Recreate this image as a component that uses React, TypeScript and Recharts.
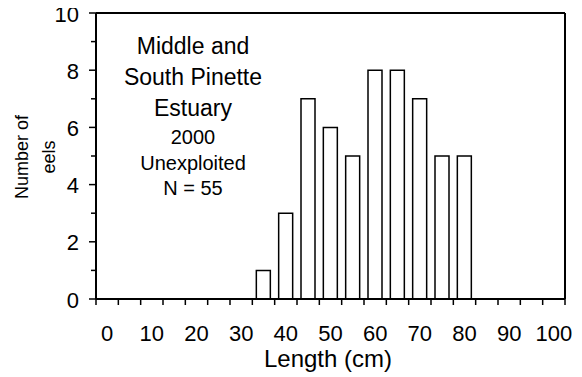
import React from "react";
import {
  BarChart,
  Bar,
  XAxis,
  YAxis,
  ReferenceLine,
} from "recharts";

// length class (cm) and eel counts
const lengthBins = [35, 40, 45, 50, 55, 60, 65, 70, 75, 80];
const eelCounts = [1, 3, 7, 6, 5, 8, 8, 7, 5, 5];

// labelled lengths, plus the class edges where the tick marks sit
const lengthLabels = [0, 10, 20, 30, 40, 50, 60, 70, 80, 90, 100];
const lengthEdges = [
  -2.5, 2.5, 7.5, 12.5, 17.5, 22.5, 27.5, 32.5, 37.5, 42.5, 47.5, 52.5,
  57.5, 62.5, 67.5, 72.5, 77.5, 82.5, 87.5, 92.5, 97.5, 102.5,
];
const countTicks = [0, 1, 2, 3, 4, 5, 6, 7, 8, 9, 10];

const titleLines = ["Middle and", "South Pinette", "Estuary"];
const infoLines = ["2000", "Unexploited", "N = 55"];

const FONT = "'Liberation Sans', Arial, sans-serif";

const W = 574;
const H = 369;

// bottom ticks: short marks at class edges, numbers at class centres
function LengthTick({ x, y, payload }: any) {
  const v = payload.value;
  if (lengthEdges.includes(v)) {
    return <line x1={x} x2={x} y1={y} y2={y + 6} stroke="#000" strokeWidth={1.5} />;
  }
  return (
    <text x={x} y={y + 42} textAnchor="middle" fontSize={22} fontFamily={FONT} fill="#000">
      {v}
    </text>
  );
}

// left ticks: labelled even counts, shorter marks on the odd ones
function CountTick({ x, y, payload }: any) {
  const v = payload.value;
  const major = v % 2 === 0;
  return (
    <g>
      <line x1={x - (major ? 7 : 5)} x2={x} y1={y} y2={y} stroke="#000" strokeWidth={1.5} />
      {major && (
        <text x={x - 17} y={y + 8.5} textAnchor="end" fontSize={22} fontFamily={FONT} fill="#000">
          {v}
        </text>
      )}
    </g>
  );
}

export default function App() {
  const data = lengthBins.map((len, i) => ({ length: len, count: eelCounts[i] }));

  return (
    <div style={{ position: "relative", width: W, height: H, background: "#fff" }}>
      {/* the top "10" sits a pixel above the svg box */}
      <style>{`.recharts-surface { overflow: visible; }`}</style>
      <BarChart
        width={W}
        height={H}
        data={data}
        margin={{ top: 5, right: 17, bottom: 0, left: 0 }}
      >
        <XAxis
          dataKey="length"
          type="number"
          domain={[-2.5, 102.5]}
          ticks={[...lengthEdges, ...lengthLabels].sort((a, b) => a - b)}
          interval={0}
          tickLine={false}
          tickSize={0}
          tickMargin={0}
          tick={<LengthTick />}
          axisLine={{ stroke: "#000", strokeWidth: 2 }}
          height={78}
        />
        <YAxis
          type="number"
          domain={[0, 10]}
          ticks={countTicks}
          interval={0}
          tickLine={false}
          tickSize={0}
          tickMargin={0}
          tick={<CountTick />}
          axisLine={{ stroke: "#000", strokeWidth: 2 }}
          width={88}
        />
        <ReferenceLine y={10} stroke="#000" strokeWidth={2} />
        <ReferenceLine x={102.5} stroke="#000" strokeWidth={2} />
        <Bar
          dataKey="count"
          fill="#fff"
          stroke="#000"
          strokeWidth={1.5}
          barSize={14}
          isAnimationActive={false}
        />
      </BarChart>

      <svg
        width={W}
        height={H}
        style={{ position: "absolute", left: 0, top: 0, pointerEvents: "none", overflow: "visible" }}
        fontFamily={FONT}
        fill="#000"
      >
        {titleLines.map((t, i) => (
          <text key={t} x={185} y={38 + i * 31} textAnchor="middle" dominantBaseline="central" fontSize={23}>
            {t}
          </text>
        ))}
        {infoLines.map((t, i) => (
          <text key={t} x={185} y={129 + i * 25.5} textAnchor="middle" dominantBaseline="central" fontSize={20}>
            {t}
          </text>
        ))}
        <text x={14} y={149} transform="rotate(-90 14 149)" textAnchor="middle" dominantBaseline="central" fontSize={18}>
          Number of
        </text>
        <text x={41} y={149} transform="rotate(-90 41 149)" textAnchor="middle" dominantBaseline="central" fontSize={18}>
          eels
        </text>
        <text x={320} y={350} textAnchor="middle" dominantBaseline="central" fontSize={24}>
          Length (cm)
        </text>
      </svg>
    </div>
  );
}
